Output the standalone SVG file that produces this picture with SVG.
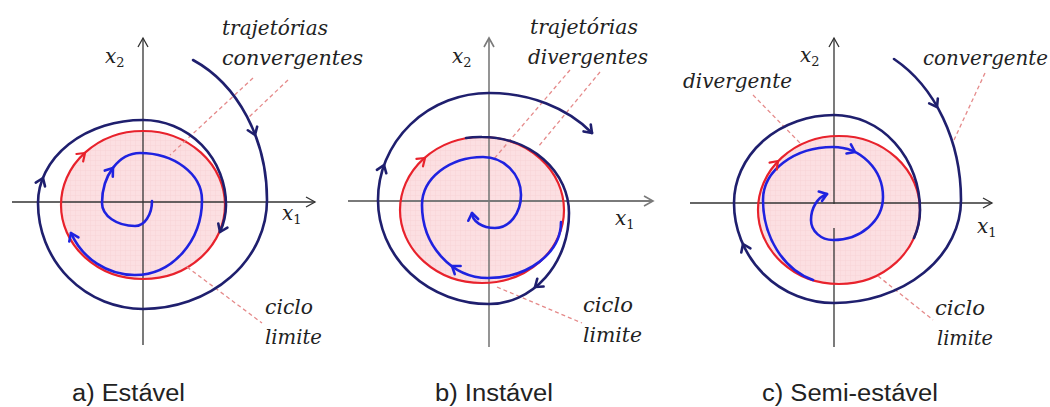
<svg xmlns="http://www.w3.org/2000/svg" xmlns:xlink="http://www.w3.org/1999/xlink" width="1050" height="407" viewBox="0 0 1050 407">
<style>
.ax{fill:none;stroke:#333;stroke-width:1.3}
.axg{fill:none;stroke:#7a7a7a;stroke-width:1.6}
.nv{fill:none;stroke:#1f1f6e;stroke-width:2.6;stroke-linecap:round;stroke-linejoin:round}
.bl{fill:none;stroke:#1f22e0;stroke-width:2.6;stroke-linecap:round;stroke-linejoin:round}
.pf{fill:url(#pk);stroke:none}
.rd{fill:none;stroke:#e8222c;stroke-width:2.2}
.rda{fill:none;stroke:#e8222c;stroke-width:2.2;stroke-linecap:round;stroke-linejoin:round}
.ds{fill:none;stroke:#e58a8a;stroke-width:1.3;stroke-dasharray:4 3}
.lb{font-family:"DejaVu Serif",serif;font-style:italic;font-size:20px;fill:#222}
.xs{font-family:"DejaVu Serif",serif;font-style:italic;font-size:20px;fill:#222}
.sub{font-style:normal;font-size:13px}
.cap{font-family:"Liberation Sans",Arial,sans-serif;font-size:23px;fill:#222}
</style>
<defs>
<pattern id="pk" width="5" height="5" patternUnits="userSpaceOnUse">
<rect width="5" height="5" fill="#fcdfe2"/>
<path d="M0 0.5H5M0.5 0V5" stroke="#f8d3d7" stroke-width="0.5"/>
</pattern>
<path id="ch" d="M-7,-5 L0,0 L-7,5" fill="none" stroke-linecap="round" stroke-linejoin="round"/>
<path id="ah" d="M-9,-5 L0,0 L-9,5" fill="none"/>
</defs>

<g id="panel-a">
<ellipse id="a-fill" class="pf" cx="143" cy="205" rx="82" ry="74"/>
<g id="a-axes">
<line class="ax" x1="143" y1="38" x2="143" y2="345"/>
<line class="ax" x1="12" y1="202" x2="315" y2="202"/>
<use xlink:href="#ah" class="ax" transform="translate(143,38) rotate(-90)"/>
<use xlink:href="#ah" class="ax" transform="translate(315,202)"/>
</g>
<ellipse id="a-cycle" class="rd" cx="143" cy="205" rx="82" ry="74"/>
<g id="a-lines">
<line class="ds" x1="253" y1="78" x2="170" y2="155"/>
<line class="ds" x1="288" y1="80" x2="248" y2="118"/>
<line class="ds" x1="187" y1="267" x2="262" y2="323"/>
</g>
<path id="a-inner" class="bl" d="M152 201 A17 25 0 0 1 135 226 A33 23 0 0 1 102 203 A38 50 0 0 1 140 153 A62 47 0 0 1 202 200 A67 75 0 0 1 135 275 A70 72 0 0 1 71 233"/>
<path id="a-outer" class="nv" d="M193 60 A124 153 0 0 1 267 200 A124 109 0 0 1 143 309 A105 106 0 0 1 38 203 A105 83 0 0 1 143 120 A83 85 0 0 1 226 205 A83 74 0 0 1 220 232"/>
<g id="a-arrows">
<use xlink:href="#ch" class="nv" transform="translate(255,135) rotate(69)"/>
<use xlink:href="#ch" class="nv" transform="translate(43,178) rotate(-68)"/>
<use xlink:href="#ch" class="nv" transform="translate(220,232) rotate(114)"/>
<use xlink:href="#ch" class="rda" transform="translate(85,153) rotate(-42)"/>
<use xlink:href="#ch" class="bl" transform="translate(113,168) rotate(-53)"/>
<use xlink:href="#ch" class="bl" transform="translate(71,233) rotate(-114)"/>
</g>
<g id="a-text">
<text class="lb" x="222" y="35" textLength="106" lengthAdjust="spacingAndGlyphs">trajetórias</text>
<text class="lb" x="222" y="65" textLength="141" lengthAdjust="spacingAndGlyphs">convergentes</text>
<text class="xs" x="105" y="63">x<tspan class="sub" dy="4">2</tspan></text>
<text class="xs" x="282" y="220">x<tspan class="sub" dy="4">1</tspan></text>
<text class="lb" x="265" y="314" textLength="48" lengthAdjust="spacingAndGlyphs">ciclo</text>
<text class="lb" x="265" y="344" textLength="57" lengthAdjust="spacingAndGlyphs">limite</text>
<text class="cap" x="72" y="401" textLength="113" lengthAdjust="spacingAndGlyphs">a) Estável</text>
</g>
</g>

<g id="panel-b">
<ellipse id="b-fill" class="pf" cx="482" cy="210" rx="82" ry="73"/>
<g id="b-axes">
<line class="axg" x1="489" y1="38" x2="489" y2="347"/>
<line class="axg" x1="348" y1="201" x2="653" y2="201" style="stroke-width:2"/>
<use xlink:href="#ah" class="axg" transform="translate(489,38) rotate(-90)"/>
<use xlink:href="#ah" class="axg" transform="translate(653,201)"/>
</g>
<ellipse id="b-cycle" class="rd" cx="482" cy="210" rx="82" ry="73"/>
<g id="b-lines">
<line class="ds" x1="570" y1="70" x2="493" y2="160"/>
<line class="ds" x1="600" y1="72" x2="538" y2="147"/>
<line class="ds" x1="497" y1="287" x2="582" y2="323"/>
</g>
<path id="b-inner" class="bl" d="M561 222 A73 56 0 0 1 488 278 A66 73 0 0 1 422 205 A61 48 0 0 1 483 157 A38 38 0 0 1 521 195 A26 33 0 0 1 495 228 A23 15 0 0 1 472 213"/>
<path id="b-outer" class="nv" d="M466 138 A82 73 0 0 1 482 137 A87 76 0 0 1 569 213 A80 91 0 0 1 489 304 A111 104 0 0 1 378 200 A111 107 0 0 1 489 93 A130 103 0 0 1 592 133"/>
<g id="b-arrows">
<use xlink:href="#ch" class="nv" transform="translate(535,287) rotate(141)"/>
<use xlink:href="#ch" class="nv" transform="translate(384,165) rotate(-70)"/>
<use xlink:href="#ch" class="nv" transform="translate(592,133) rotate(46)"/>
<use xlink:href="#ch" class="rda" transform="translate(425,158) rotate(-41)"/>
<use xlink:href="#ch" class="bl" transform="translate(452,266) rotate(-144)"/>
<use xlink:href="#ch" class="bl" transform="translate(472,213) rotate(-100)"/>
</g>
<g id="b-text">
<text class="lb" x="530" y="34" textLength="108" lengthAdjust="spacingAndGlyphs">trajetórias</text>
<text class="lb" x="528" y="64" textLength="120" lengthAdjust="spacingAndGlyphs">divergentes</text>
<text class="xs" x="452" y="63">x<tspan class="sub" dy="4">2</tspan></text>
<text class="xs" x="615" y="225">x<tspan class="sub" dy="4">1</tspan></text>
<text class="lb" x="583" y="312" textLength="50" lengthAdjust="spacingAndGlyphs">ciclo</text>
<text class="lb" x="583" y="342" textLength="59" lengthAdjust="spacingAndGlyphs">limite</text>
<text class="cap" x="435" y="401" textLength="118" lengthAdjust="spacingAndGlyphs">b) Instável</text>
</g>
</g>

<g id="panel-c">
<ellipse id="c-fill" class="pf" cx="839" cy="210" rx="81" ry="74"/>
<g id="c-axes">
<line class="ax" x1="834" y1="38" x2="834" y2="204"/>
<line class="ax" x1="834" y1="228" x2="834" y2="347"/>
<line class="ax" x1="690" y1="203" x2="992" y2="203"/>
<use xlink:href="#ah" class="ax" transform="translate(834,38) rotate(-90)"/>
<use xlink:href="#ah" class="ax" transform="translate(992,203)"/>
</g>
<ellipse id="c-cycle" class="rd" cx="839" cy="210" rx="81" ry="74"/>
<g id="c-lines">
<line class="ds" x1="753" y1="95" x2="800" y2="143"/>
<line class="ds" x1="985" y1="73" x2="954" y2="140"/>
<line class="ds" x1="878" y1="276" x2="933" y2="320"/>
</g>
<path id="c-inner" class="bl" d="M813 280 A70 83.5 0 0 1 763 200 A70 53 0 0 1 833 147 A50 50 0 0 1 883 197 A50 43 0 0 1 833 240 A22 20 0 0 1 811 220 A22 27 0 0 1 827 194"/>
<path id="c-outer" class="nv" d="M894 59 A127 160 0 0 1 961 200 A127 103 0 0 1 834 303 A100 100 0 0 1 734 203 A100 88 0 0 1 834 115 A86 95 0 0 1 920 210 A81 74 0 0 1 914 238"/>
<g id="c-arrows">
<use xlink:href="#ch" class="nv" transform="translate(937,107) rotate(60)"/>
<use xlink:href="#ch" class="nv" transform="translate(743,244) rotate(-114)"/>
<use xlink:href="#ch" class="rda" transform="translate(778,161) rotate(-46)"/>
<use xlink:href="#ch" class="bl" transform="translate(855,152) rotate(26)"/>
<use xlink:href="#ch" class="bl" transform="translate(827,194) rotate(-19)"/>
</g>
<g id="c-text">
<text class="lb" x="923" y="65" textLength="125" lengthAdjust="spacingAndGlyphs">convergente</text>
<text class="lb" x="683" y="88" textLength="109" lengthAdjust="spacingAndGlyphs">divergente</text>
<text class="xs" x="800" y="62">x<tspan class="sub" dy="4">2</tspan></text>
<text class="xs" x="977" y="233">x<tspan class="sub" dy="4">1</tspan></text>
<text class="lb" x="935" y="315" textLength="50" lengthAdjust="spacingAndGlyphs">ciclo</text>
<text class="lb" x="937" y="345" textLength="56" lengthAdjust="spacingAndGlyphs">limite</text>
<text class="cap" x="762" y="401" textLength="176" lengthAdjust="spacingAndGlyphs">c) Semi-estável</text>
</g>
</g>
</svg>
